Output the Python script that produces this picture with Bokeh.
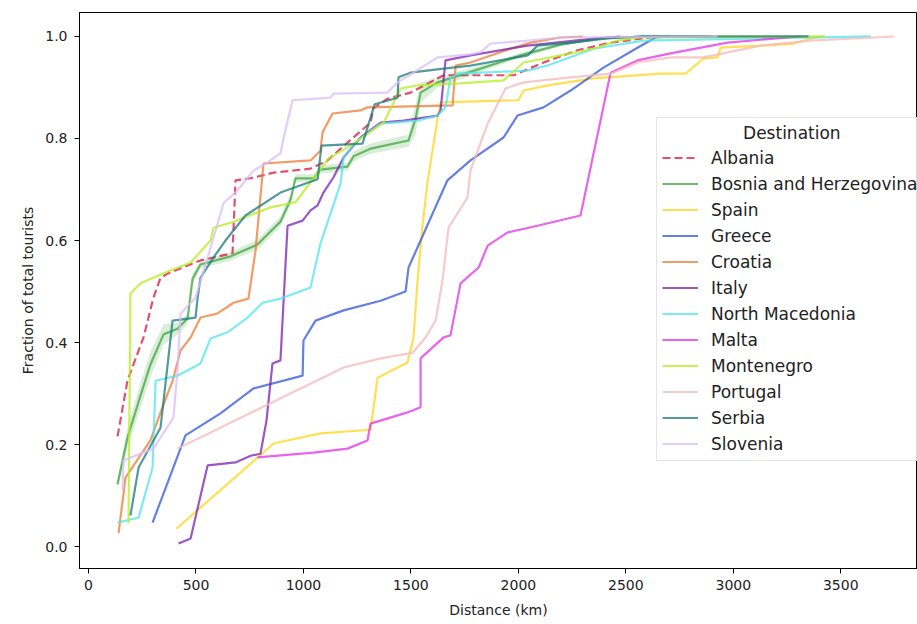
from bokeh.plotting import figure
from bokeh.models import Legend, LegendItem, FixedTicker, Range1d
from bokeh.embed import file_html
from bokeh.resources import INLINE

destinations = ["Albania", "Bosnia and Herzegovina", "Spain", "Greece", "Croatia", "Italy",
                "North Macedonia", "Malta", "Montenegro", "Portugal", "Serbia", "Slovenia"]

albania_x = [135, 181, 256, 302, 335, 368, 521, 670, 684, 754, 861, 1033, 1112, 1205, 1312, 1326, 1391, 1498, 1652, 1978, 2117, 2275, 2429, 2615]
albania_y = [0.216, 0.325, 0.41, 0.488, 0.527, 0.535, 0.561, 0.575, 0.718, 0.722, 0.733, 0.741, 0.757, 0.792, 0.831, 0.859, 0.878, 0.89, 0.924, 0.924, 0.949, 0.973, 0.988, 0.998]

bosnia_x = [135, 181, 233, 288, 349, 414, 461, 484, 521, 661, 786, 893, 940, 963, 1047, 1079, 1205, 1233, 1312, 1489, 1522, 1545, 1624, 1824, 2010, 2196, 2382, 2568, 2900]
bosnia_y = [0.122, 0.213, 0.284, 0.357, 0.416, 0.427, 0.447, 0.525, 0.553, 0.569, 0.592, 0.637, 0.68, 0.722, 0.722, 0.739, 0.745, 0.765, 0.78, 0.796, 0.839, 0.89, 0.91, 0.937, 0.963, 0.984, 0.996, 1.0, 1.0]
bosnia_ci = [0.01, 0.02, 0.025, 0.025, 0.02, 0.012, 0.01, 0.01, 0.008, 0.008, 0.01, 0.01, 0.01, 0.008, 0.008, 0.008, 0.008, 0.01, 0.01, 0.012, 0.03, 0.02, 0.01, 0.006, 0.005, 0.003, 0.002, 0.0, 0.0]

spain_x = [409, 861, 1079, 1312, 1345, 1484, 1512, 1531, 1554, 1577, 1624, 1638, 2001, 2024, 2136, 2350, 2662, 2778, 2862, 2927, 2941, 3127, 3280, 3327, 3383, 3420]
spain_y = [0.035, 0.202, 0.222, 0.229, 0.331, 0.361, 0.41, 0.522, 0.629, 0.714, 0.839, 0.871, 0.875, 0.894, 0.904, 0.918, 0.927, 0.927, 0.957, 0.959, 0.978, 0.982, 0.986, 0.992, 0.998, 1.0]

greece_x = [298, 451, 614, 768, 996, 1000, 1056, 1187, 1359, 1475, 1489, 1670, 1777, 1931, 1996, 2117, 2243, 2396, 2554, 2638, 2700]
greece_y = [0.047, 0.218, 0.261, 0.31, 0.335, 0.404, 0.443, 0.463, 0.482, 0.5, 0.547, 0.718, 0.757, 0.802, 0.845, 0.861, 0.894, 0.939, 0.978, 0.998, 1.0]

croatia_x = [140, 172, 288, 344, 391, 428, 475, 521, 600, 675, 744, 777, 814, 1033, 1079, 1089, 1135, 1266, 1298, 1694, 1708, 1777, 1964, 2057, 2196, 2300]
croatia_y = [0.027, 0.135, 0.208, 0.273, 0.325, 0.384, 0.41, 0.449, 0.457, 0.478, 0.486, 0.58, 0.751, 0.757, 0.776, 0.812, 0.849, 0.855, 0.861, 0.865, 0.943, 0.949, 0.976, 0.988, 0.998, 1.0]

italy_x = [419, 475, 554, 684, 754, 800, 828, 856, 893, 926, 996, 1033, 1066, 1093, 1140, 1187, 1266, 1359, 1466, 1624, 1638, 1661, 1777, 2043, 2350, 2475]
italy_y = [0.006, 0.016, 0.159, 0.165, 0.178, 0.182, 0.247, 0.359, 0.365, 0.629, 0.639, 0.659, 0.669, 0.694, 0.724, 0.763, 0.802, 0.831, 0.835, 0.845, 0.855, 0.953, 0.963, 0.982, 0.996, 1.0]

macedonia_x = [135, 233, 298, 312, 414, 521, 568, 647, 740, 810, 893, 1033, 1079, 1173, 1187, 1219, 1252, 1359, 1531, 1624, 1661, 1684, 1717, 2043, 2136, 2350, 2582, 3639]
macedonia_y = [0.047, 0.057, 0.155, 0.325, 0.335, 0.359, 0.408, 0.42, 0.449, 0.478, 0.486, 0.508, 0.594, 0.712, 0.763, 0.78, 0.796, 0.829, 0.835, 0.845, 0.861, 0.918, 0.927, 0.933, 0.943, 0.976, 0.992, 1.0]

malta_x = [786, 1047, 1205, 1298, 1312, 1484, 1545, 1545, 1652, 1684, 1731, 1815, 1857, 1950, 2089, 2289, 2429, 2554, 2708, 2973, 3252, 3313]
malta_y = [0.175, 0.184, 0.192, 0.208, 0.241, 0.263, 0.273, 0.369, 0.41, 0.414, 0.516, 0.547, 0.59, 0.616, 0.629, 0.649, 0.929, 0.953, 0.967, 0.988, 0.998, 1.0]

montenegro_x = [186, 195, 242, 344, 475, 568, 582, 661, 847, 963, 1047, 1117, 1219, 1373, 1452, 1531, 1731, 1931, 2024, 2150, 2350, 2461, 2568, 3429]
montenegro_y = [0.045, 0.496, 0.516, 0.535, 0.557, 0.6, 0.625, 0.635, 0.665, 0.675, 0.722, 0.761, 0.786, 0.831, 0.898, 0.904, 0.908, 0.914, 0.949, 0.959, 0.976, 0.992, 0.998, 1.0]

portugal_x = [414, 1187, 1359, 1508, 1568, 1615, 1647, 1675, 1763, 1777, 1857, 1940, 2024, 2243, 2429, 2554, 2708, 2862, 3127, 3359, 3746]
portugal_y = [0.192, 0.351, 0.369, 0.38, 0.41, 0.443, 0.522, 0.625, 0.684, 0.737, 0.829, 0.898, 0.91, 0.92, 0.927, 0.949, 0.959, 0.959, 0.982, 0.992, 1.0]

serbia_x = [195, 233, 335, 391, 498, 507, 521, 582, 637, 730, 893, 1066, 1084, 1275, 1331, 1438, 1442, 1498, 1652, 1777, 2043, 2089, 2243, 2415, 2568, 3350]
serbia_y = [0.061, 0.155, 0.233, 0.443, 0.449, 0.486, 0.527, 0.567, 0.6, 0.649, 0.694, 0.72, 0.786, 0.79, 0.867, 0.88, 0.92, 0.929, 0.937, 0.943, 0.963, 0.982, 0.988, 0.996, 1.0, 1.0]

slovenia_x = [158, 163, 302, 395, 414, 428, 498, 568, 628, 693, 768, 833, 893, 907, 949, 1126, 1140, 1391, 1438, 1512, 1624, 1777, 1824, 1870, 2043, 2196, 2927]
slovenia_y = [0.11, 0.169, 0.192, 0.253, 0.345, 0.457, 0.488, 0.586, 0.673, 0.698, 0.737, 0.753, 0.771, 0.8, 0.875, 0.88, 0.888, 0.89, 0.91, 0.929, 0.959, 0.965, 0.969, 0.986, 0.992, 0.998, 1.0]

x_ticks = [0, 500, 1000, 1500, 2000, 2500, 3000, 3500]
y_ticks = [0.0, 0.2, 0.4, 0.6, 0.8, 1.0]
y_tick_labels = ["0.0", "0.2", "0.4", "0.6", "0.8", "1.0"]
legend_title = "Destination"

series = [
    (albania_x, albania_y, "#dc143c", "dashed"),
    (bosnia_x, bosnia_y, "#3fa63f", "solid"),
    (spain_x, spain_y, "#ffd51a", "solid"),
    (greece_x, greece_y, "#2f55d8", "solid"),
    (croatia_x, croatia_y, "#ec7a33", "solid"),
    (italy_x, italy_y, "#7a1fb0", "solid"),
    (macedonia_x, macedonia_y, "#4fe4ee", "solid"),
    (malta_x, malta_y, "#e030e6", "solid"),
    (montenegro_x, montenegro_y, "#b4ee1e", "solid"),
    (portugal_x, portugal_y, "#f4b8b8", "solid"),
    (serbia_x, serbia_y, "#1a7a7a", "solid"),
    (slovenia_x, slovenia_y, "#d8bcf8", "solid"),
]

FONT = "DejaVu Sans"

p = figure(width=917, height=620, output_backend="svg", toolbar_location=None,
           x_range=Range1d(-42, 3857), y_range=Range1d(-0.043, 1.047),
           min_border_left=79, min_border_right=0, min_border_top=12, min_border_bottom=52)
p.xgrid.visible = False
p.ygrid.visible = False
p.outline_line_color = "black"
p.outline_line_width = 1
p.background_fill_color = "white"
p.border_fill_color = "white"

# Bosnia confidence band
b_lo = [y - c for y, c in zip(bosnia_y, bosnia_ci)]
b_hi = [y + c for y, c in zip(bosnia_y, bosnia_ci)]
p.varea(x=bosnia_x, y1=b_lo, y2=b_hi, fill_color="#3fa63f", fill_alpha=0.2)

items = []
for name, (xs, ys, col, dash) in zip(destinations, series):
    r = p.line(xs, ys, line_color=col, line_width=2.2, line_alpha=0.75,
               line_dash="8 4" if dash == "dashed" else "solid")
    items.append(LegendItem(label=name, renderers=[r]))

for ax in (p.xaxis[0], p.yaxis[0]):
    ax.major_label_text_font = FONT
    ax.major_label_text_font_size = "14px"
    ax.major_label_text_color = "#222222"
    ax.axis_label_text_font = FONT
    ax.axis_label_text_font_size = "14px"
    ax.axis_label_text_font_style = "normal"
    ax.axis_label_text_color = "#222222"
    ax.minor_tick_line_color = None
    ax.major_tick_in = 0
    ax.major_tick_out = 5
    ax.axis_line_color = "black"

p.xaxis.ticker = FixedTicker(ticks=x_ticks)
p.yaxis.ticker = FixedTicker(ticks=y_ticks)
p.yaxis.major_label_overrides = {t: l for t, l in zip(y_ticks, y_tick_labels)}
p.xaxis.axis_label = "Distance (km)"
p.yaxis.axis_label = "Fraction of total tourists"
p.xaxis.major_label_standoff = 6
p.yaxis.major_label_standoff = 7
p.xaxis.axis_label_standoff = 9
p.yaxis.axis_label_standoff = 6

# title centred over the legend box by leading non-breaking spaces
legend = Legend(items=items, title="\u00a0" * 15 + legend_title, location=(577, 107))
legend.title_text_font = FONT
legend.title_text_font_size = "17px"
legend.title_text_font_style = "normal"
legend.title_text_color = "#222222"
legend.title_standoff = 3
legend.label_text_font = FONT
legend.label_text_font_size = "17px"
legend.label_text_color = "#222222"
legend.glyph_width = 36
legend.glyph_height = 23
legend.label_height = 23
legend.spacing = 3
legend.label_standoff = 13
legend.padding = 5
legend.margin = 0
legend.border_line_color = "#cccccc"
legend.background_fill_alpha = 0.85
p.add_layout(legend)

open("out.html", "w").write(file_html(p, INLINE))
